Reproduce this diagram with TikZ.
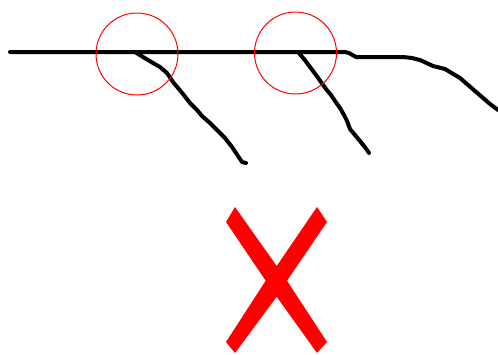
\documentclass[tikz,border=0pt]{standalone}
\begin{document}
\begin{tikzpicture}[x=1pt,y=-1pt,
  ink/.style={line width=4pt,line cap=round,line join=round,black},
  ring/.style={draw=red,line width=1pt}]
\useasboundingbox (0,0) rectangle (498,354);
% main horizontal line with curving tail
\draw[ink] (10,52) -- (345,52) -- (349,53) -- (356,57) -- (403,57) -- (412,58) -- (420,60)
  -- (433,66) -- (445,69) -- (460,78) -- (475,91) -- (490,104) -- (498,110);
% branch 1
\draw[ink] (135,52) -- (143,57) -- (153,63) -- (160,67) -- (167,73) -- (173,82) -- (178,88)
  -- (183,94) -- (190,103) -- (197,110) -- (202,116) -- (210,123) -- (218,131) -- (225,138)
  -- (232,147) -- (238,156) -- (242,162) -- (246,163);
% branch 2
\draw[ink] (298,52) -- (304,59) -- (310,67) -- (316,75) -- (321,82) -- (326,89) -- (331,95)
  -- (335,101) -- (340,108) -- (344,115) -- (347,121) -- (350,129) -- (355,135) -- (360,141)
  -- (364,146) -- (367,150) -- (369,153);
% circles
\node[ring,circle,minimum size=82pt,inner sep=0pt] (c1) at (137,54) {};
\node[ring,circle,minimum size=82pt,inner sep=0pt] (c2) at (295.5,53) {};
% red X
\fill[red] (235,207) -- (276.7,266) -- (317,207) -- (327,222) -- (287,280.7) -- (327,342)
  -- (317,353) -- (276.7,296.7) -- (235,353) -- (226,342) -- (265.7,280.7) -- (226,222) -- cycle;
\end{tikzpicture}
\end{document}
